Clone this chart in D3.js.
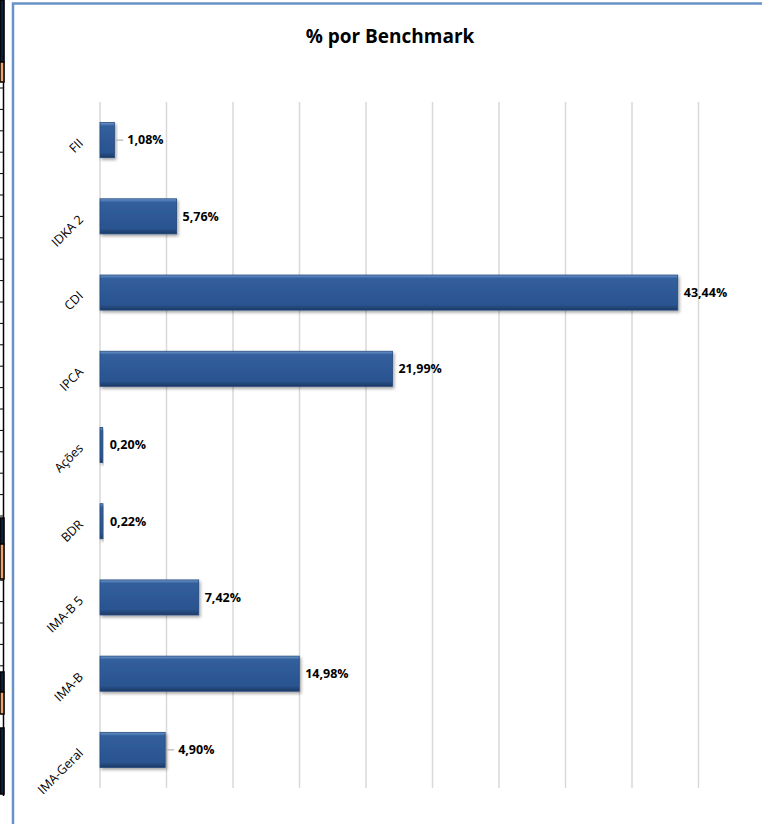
<!DOCTYPE html>
<html lang="pt">
<head>
<meta charset="utf-8">
<title>% por Benchmark</title>
<script src="https://d3js.org/d3.v7.min.js"></script>
<style>
  body{margin:0;background:#fff;font-family:"Open Sans",sans-serif;}
  svg{display:block;}
</style>
</head>
<body>
<div id="chart"></div>
<script>
// data, top to bottom
var categories = ["FII","IDKA 2","CDI","IPCA","Ações","BDR","IMA-B 5","IMA-B","IMA-Geral"]
var values = [1.08, 5.76, 43.44, 21.99, 0.20, 0.22, 7.42, 14.98, 4.90]
var xTicks = [0,5,10,15,20,25,30,35,40,45]
var leaderCats = ["FII","IMA-Geral"]   // labels pushed out with a little leader line

var W = 762, H = 824
var svg = d3.select("#chart").append("svg").attr("width",W).attr("height",H)

// bits of the spreadsheet showing at the left edge
var strip = svg.append("g")
strip.append("line").attr("x1",3.5).attr("x2",3.5).attr("y1",0).attr("y2",796)
  .attr("stroke","#000").attr("stroke-width",1.5)
d3.range(88,680,21.4).forEach(function(y){
  strip.append("line").attr("x1",0).attr("x2",4).attr("y1",y).attr("y2",y).attr("stroke","#000").attr("stroke-width",1)
})
var blocks = [[0,0,62,"#0d1f3a"],[0,62,20,"#f2a36a"],[0,518,26,"#0d1f3a"],[0,544,35,"#f2a36a"],[0,672,20,"#0d1f3a"],[0,692,22,"#f2a36a"],[0,728,66,"#0d1f3a"]]
blocks.forEach(function(b){
  strip.append("rect").attr("x",b[0]).attr("y",b[1]).attr("width",4).attr("height",b[2])
    .attr("fill",b[3]).attr("stroke","#000").attr("stroke-width",1.5)
})

// chart frame
svg.append("path").attr("d","M13,824 V3.5 H762").attr("fill","none")
  .attr("stroke","#6892c8").attr("stroke-width",2.5)

svg.append("text").attr("x",390).attr("y",43).attr("text-anchor","middle")
  .attr("font-size",19).attr("font-weight","bold").attr("fill","#000")
  .text("% por Benchmark")

var x = d3.scaleLinear().domain([0,45]).range([100,698.5])
var y = d3.scaleBand().domain(categories).range([102,788]).paddingInner(0.54).paddingOuter(0.27)

// gridlines
svg.append("g").selectAll("line").data(xTicks).enter().append("line")
  .attr("x1",function(d){return x(d)}).attr("x2",function(d){return x(d)})
  .attr("y1",102).attr("y2",788)
  .attr("stroke","#d9d9d9").attr("stroke-width",1.5)

var defs = svg.append("defs")
var grad = defs.append("linearGradient").attr("id","barg").attr("x1",0).attr("x2",0).attr("y1",0).attr("y2",1)
grad.append("stop").attr("offset","0%").attr("stop-color","#6d97cc")
grad.append("stop").attr("offset","10%").attr("stop-color","#325f9c")
grad.append("stop").attr("offset","85%").attr("stop-color","#2a5490")
grad.append("stop").attr("offset","100%").attr("stop-color","#1b3963")
var sh = defs.append("filter").attr("id","shadow").attr("x","-10%").attr("y","-20%").attr("width","130%").attr("height","160%")
sh.append("feDropShadow").attr("dx",1.5).attr("dy",2).attr("stdDeviation",1.5).attr("flood-color","#000").attr("flood-opacity",0.35)

var rows = categories.map(function(c,i){return {cat:c,val:values[i]}})

svg.append("g").selectAll("rect").data(rows).enter().append("rect")
  .attr("x",x(0))
  .attr("y",function(d){return y(d.cat)})
  .attr("width",function(d){return x(d.val)-x(0)})
  .attr("height",y.bandwidth())
  .attr("fill","url(#barg)")
  .attr("stroke","#24497d").attr("stroke-width",0.8)
  .attr("filter","url(#shadow)")

// leader lines
svg.append("g").selectAll("line").data(rows.filter(function(d){return leaderCats.indexOf(d.cat)>=0})).enter().append("line")
  .attr("x1",function(d){return x(d.val)+2}).attr("x2",function(d){return x(d.val)+9})
  .attr("y1",function(d){return y(d.cat)+y.bandwidth()/2}).attr("y2",function(d){return y(d.cat)+y.bandwidth()/2})
  .attr("stroke","#a6a6a6").attr("stroke-width",1)

// value labels
svg.append("g").selectAll("text").data(rows).enter().append("text")
  .attr("x",function(d){
    var off = leaderCats.indexOf(d.cat)>=0 ? 13 : (d.val<1 ? 7 : 6)
    return x(d.val)+off
  })
  .attr("y",function(d){return y(d.cat)+y.bandwidth()/2})
  .attr("dy","0.35em")
  .attr("font-size",12.5).attr("font-weight","bold").attr("fill","#000")
  .text(function(d){return d.val.toFixed(2).replace(".",",")+"%"})

// category labels, rotated
svg.append("g").selectAll("text").data(categories).enter().append("text")
  .attr("transform",function(d){return "translate(84,"+(y(d)+y.bandwidth()/2+4)+") rotate(-45)"})
  .attr("text-anchor","end")
  .attr("font-size",12.5).attr("fill","#000")
  .text(function(d){return d})
</script>
</body>
</html>
